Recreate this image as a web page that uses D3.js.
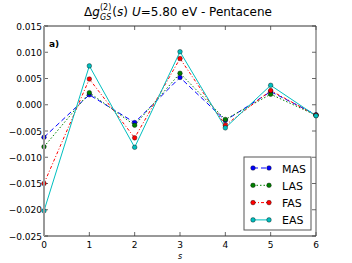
<!DOCTYPE html>
<html>
<head>
<meta charset="utf-8">
<script src="https://cdn.jsdelivr.net/npm/d3@7"></script>
<style>
  body { margin: 0; background: #fff; }
  text { font-family: "DejaVu Sans", sans-serif; }
</style>
</head>
<body>
<div id="vis"></div>
<script>
// data
var sites = [0, 1, 2, 3, 4, 5, 6];
var mas = [-0.0062, 0.0019, -0.0034, 0.0052, -0.0030, 0.0025, -0.0019];
var las = [-0.0080, 0.0023, -0.0039, 0.0060, -0.0028, 0.0020, -0.0020];
var fas = [-0.0150, 0.0049, -0.0063, 0.0088, -0.0039, 0.0027, -0.0020];
var eas = [-0.0202, 0.0074, -0.0081, 0.0101, -0.0044, 0.0037, -0.0021];
var names = ["MAS", "LAS", "FAS", "EAS"];
var colors = ["#0000ff", "#008000", "#ff0000", "#00bfbf"];
var dashes = ["5,3", "1.5,2", "3,2,1,2", null];
var xTicks = [0, 1, 2, 3, 4, 5, 6];
var yTicks = [-0.025, -0.020, -0.015, -0.010, -0.005, 0.000, 0.005, 0.010, 0.015];

var width = 352, height = 263;
var margin = {left: 44, right: 36, top: 26, bottom: 27};

var svg = d3.select("#vis").append("svg")
  .attr("width", width)
  .attr("height", height);

var x = d3.scaleLinear().domain([0, 6]).range([margin.left, width - margin.right]);
var y = d3.scaleLinear().domain([-0.025, 0.015]).range([height - margin.bottom, margin.top]);

var fmt = function(d) { return d3.format(".3f")(d).replace("-", "\u2212"); };

// ticks inside the box
var g = svg.append("g");
xTicks.forEach(function(t) {
  g.append("line").attr("x1", x(t)).attr("x2", x(t))
    .attr("y1", y.range()[0]).attr("y2", y.range()[0] - 4).attr("stroke", "#000").attr("stroke-width", 0.6);
  g.append("line").attr("x1", x(t)).attr("x2", x(t))
    .attr("y1", y.range()[1]).attr("y2", y.range()[1] + 4).attr("stroke", "#000").attr("stroke-width", 0.6);
  g.append("text").attr("x", x(t)).attr("y", y.range()[0] + 12)
    .attr("text-anchor", "middle").attr("font-size", 9).text(t);
});
yTicks.forEach(function(t) {
  g.append("line").attr("x1", x.range()[0]).attr("x2", x.range()[0] + 4)
    .attr("y1", y(t)).attr("y2", y(t)).attr("stroke", "#000").attr("stroke-width", 0.6);
  g.append("line").attr("x1", x.range()[1]).attr("x2", x.range()[1] - 4)
    .attr("y1", y(t)).attr("y2", y(t)).attr("stroke", "#000").attr("stroke-width", 0.6);
  g.append("text").attr("x", x.range()[0] - 2).attr("y", y(t) + 3.5)
    .attr("text-anchor", "end").attr("font-size", 9).text(fmt(t));
});

// spines
svg.append("line").attr("x1", x.range()[0]).attr("x2", x.range()[1])
  .attr("y1", y.range()[1]).attr("y2", y.range()[1]).attr("stroke", "#333").attr("stroke-width", 1);
svg.append("line").attr("x1", x.range()[0]).attr("x2", x.range()[1])
  .attr("y1", y.range()[0]).attr("y2", y.range()[0]).attr("stroke", "#333").attr("stroke-width", 1);
svg.append("line").attr("x1", x.range()[1]).attr("x2", x.range()[1])
  .attr("y1", y.range()[1]).attr("y2", y.range()[0]).attr("stroke", "#555").attr("stroke-width", 1);

// series
var series = [mas, las, fas, eas];
var line = d3.line().x(function(d, i) { return x(sites[i]); }).y(function(d) { return y(d); });

series.forEach(function(vals, k) {
  svg.append("path").datum(vals)
    .attr("d", line)
    .attr("fill", "none")
    .attr("stroke", colors[k])
    .attr("stroke-width", 1)
    .attr("stroke-dasharray", dashes[k]);
});
series.forEach(function(vals, k) {
  svg.selectAll(".pt" + k).data(vals).enter().append("circle")
    .attr("cx", function(d, i) { return x(sites[i]); })
    .attr("cy", function(d) { return y(d); })
    .attr("r", 2.3)
    .attr("fill", colors[k])
    .attr("stroke", "#000")
    .attr("stroke-width", 0.4);
});

// left spine on top, gray and thicker
svg.append("line").attr("x1", x.range()[0]).attr("x2", x.range()[0])
  .attr("y1", y.range()[1]).attr("y2", y.range()[0]).attr("stroke", "#999").attr("stroke-width", 2);

// panel label
svg.append("text").attr("x", 49).attr("y", 47).attr("font-size", 9).attr("font-weight", "bold").text("a)");

// legend
var lg = svg.append("g").attr("transform", "translate(244,157)");
lg.append("rect").attr("width", 67).attr("height", 73)
  .attr("fill", "#fff").attr("stroke", "#555").attr("stroke-width", 1);
names.forEach(function(n, k) {
  var yy = 11 + k * 17.3;
  lg.append("line").attr("x1", 9).attr("x2", 25).attr("y1", yy).attr("y2", yy)
    .attr("stroke", colors[k]).attr("stroke-width", 1).attr("stroke-dasharray", dashes[k]);
  [9, 25].forEach(function(cx) {
    lg.append("circle").attr("cx", cx).attr("cy", yy).attr("r", 2.3)
      .attr("fill", colors[k]).attr("stroke", "#000").attr("stroke-width", 0.4);
  });
  lg.append("text").attr("x", 38).attr("y", yy + 4.5).attr("font-size", 11).text(n);
});

// title, laid out piece by piece
var tg = svg.append("g");
var cursor = 0, base = 16;
function piece(str, opts) {
  opts = opts || {};
  var t = tg.append("text").attr("x", cursor).attr("y", base + (opts.dy || 0))
    .attr("font-size", opts.size || 12)
    .attr("font-family", opts.sans ? "DejaVu Sans" : "DejaVu Serif")
    .attr("font-style", opts.italic ? "italic" : "normal")
    .text(str);
  var w = t.node().getComputedTextLength();
  if (!opts.noAdvance) cursor += w;
  return w;
}
piece("\u0394");
piece("g", {italic: true});
var w1 = piece("(2)", {size: 8, dy: -6, noAdvance: true});
var w2 = piece("GS", {size: 8, italic: true, dy: 4, noAdvance: true});
cursor += Math.max(w1, w2) + 1;
piece("(");
piece("s", {italic: true});
piece(")");
cursor += 4;
piece("U", {italic: true});
piece("=5.80");
cursor += 4;
piece("eV - Pentacene", {sans: true});
tg.attr("transform", "translate(" + (178 - cursor / 2) + ",0)");

// x label
svg.append("text").attr("x", x(3)).attr("y", 259).attr("text-anchor", "middle")
  .attr("font-size", 8).attr("font-family", "DejaVu Serif").attr("font-style", "italic").text("s");
</script>
</body>
</html>
